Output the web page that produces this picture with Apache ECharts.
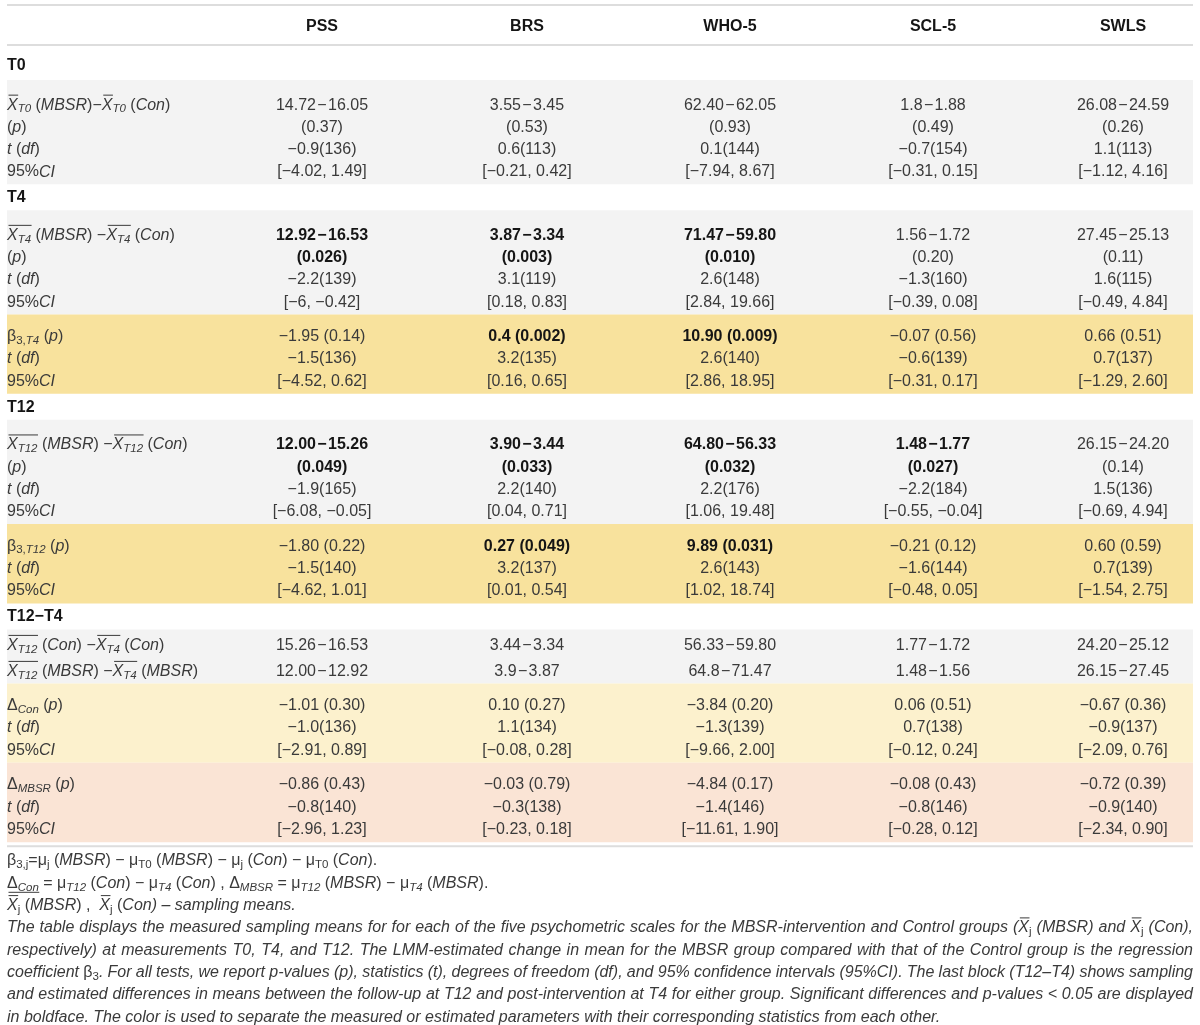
<!DOCTYPE html>
<html lang="en">
<head>
<meta charset="UTF-8">
<title>MBSR vs Control - psychometric scales</title>
<script src="https://cdn.jsdelivr.net/npm/echarts@6/dist/echarts.min.js"></script>
<style>
    html, body {margin: 0; padding: 0; background: #fff;}
    #main {width: 1200px; height: 1025px;}
</style>
</head>
<body>
<div id="main"></div>
<script>
    /* ---- data ---- */
    var scales = ['PSS', 'BRS', 'WHO-5', 'SCL-5', 'SWLS'];

    // T0
    var t0Diff = ['14.72\u221216.05', '3.55\u22123.45', '62.40\u221262.05', '1.8\u22121.88', '26.08\u221224.59'];
    var t0P = ['(0.37)', '(0.53)', '(0.93)', '(0.49)', '(0.26)'];
    var t0T = ['\u22120.9(136)', '0.6(113)', '0.1(144)', '\u22120.7(154)', '1.1(113)'];
    var t0CI = ['[\u22124.02, 1.49]', '[\u22120.21, 0.42]', '[\u22127.94, 8.67]', '[\u22120.31, 0.15]', '[\u22121.12, 4.16]'];

    // T4
    var t4Diff = ['12.92\u221216.53', '3.87\u22123.34', '71.47\u221259.80', '1.56\u22121.72', '27.45\u221225.13'];
    var t4P = ['(0.026)', '(0.003)', '(0.010)', '(0.20)', '(0.11)'];
    var t4T = ['\u22122.2(139)', '3.1(119)', '2.6(148)', '\u22121.3(160)', '1.6(115)'];
    var t4CI = ['[\u22126, \u22120.42]', '[0.18, 0.83]', '[2.84, 19.66]', '[\u22120.39, 0.08]', '[\u22120.49, 4.84]'];
    var b4P = ['\u22121.95 (0.14)', '0.4 (0.002)', '10.90 (0.009)', '\u22120.07 (0.56)', '0.66 (0.51)'];
    var b4T = ['\u22121.5(136)', '3.2(135)', '2.6(140)', '\u22120.6(139)', '0.7(137)'];
    var b4CI = ['[\u22124.52, 0.62]', '[0.16, 0.65]', '[2.86, 18.95]', '[\u22120.31, 0.17]', '[\u22121.29, 2.60]'];

    // T12
    var t12Diff = ['12.00\u221215.26', '3.90\u22123.44', '64.80\u221256.33', '1.48\u22121.77', '26.15\u221224.20'];
    var t12P = ['(0.049)', '(0.033)', '(0.032)', '(0.027)', '(0.14)'];
    var t12T = ['\u22121.9(165)', '2.2(140)', '2.2(176)', '\u22122.2(184)', '1.5(136)'];
    var t12CI = ['[\u22126.08, \u22120.05]', '[0.04, 0.71]', '[1.06, 19.48]', '[\u22120.55, \u22120.04]', '[\u22120.69, 4.94]'];
    var b12P = ['\u22121.80 (0.22)', '0.27 (0.049)', '9.89 (0.031)', '\u22120.21 (0.12)', '0.60 (0.59)'];
    var b12T = ['\u22121.5(140)', '3.2(137)', '2.6(143)', '\u22121.6(144)', '0.7(139)'];
    var b12CI = ['[\u22124.62, 1.01]', '[0.01, 0.54]', '[1.02, 18.74]', '[\u22120.48, 0.05]', '[\u22121.54, 2.75]'];

    // T12-T4
    var dConMeans = ['15.26\u221216.53', '3.44\u22123.34', '56.33\u221259.80', '1.77\u22121.72', '24.20\u221225.12'];
    var dMbsrMeans = ['12.00\u221212.92', '3.9\u22123.87', '64.8\u221271.47', '1.48\u22121.56', '26.15\u221227.45'];
    var dConP = ['\u22121.01 (0.30)', '0.10 (0.27)', '\u22123.84 (0.20)', '0.06 (0.51)', '\u22120.67 (0.36)'];
    var dConT = ['\u22121.0(136)', '1.1(134)', '\u22121.3(139)', '0.7(138)', '\u22120.9(137)'];
    var dConCI = ['[\u22122.91, 0.89]', '[\u22120.08, 0.28]', '[\u22129.66, 2.00]', '[\u22120.12, 0.24]', '[\u22122.09, 0.76]'];
    var dMbsrP = ['\u22120.86 (0.43)', '\u22120.03 (0.79)', '\u22124.84 (0.17)', '\u22120.08 (0.43)', '\u22120.72 (0.39)'];
    var dMbsrT = ['\u22120.8(140)', '\u22120.3(138)', '\u22121.4(146)', '\u22120.8(146)', '\u22120.9(140)'];
    var dMbsrCI = ['[\u22122.96, 1.23]', '[\u22120.23, 0.18]', '[\u221211.61, 1.90]', '[\u22120.28, 0.12]', '[\u22122.34, 0.90]'];

    /* ---- row labels: [text, font code, bar] ; codes n / i / sn / si ; bar 1 = overline, 2 = underline ---- */
    function lblDiff(tp, sep, longBar) {
        return [['X', 'i', 1], [tp, 'si', longBar], [' (', 'n'], ['MBSR', 'i'], [sep, 'n'],
                ['X', 'i', 1], [tp, 'si', longBar], [' (', 'n'], ['Con', 'i'], [')', 'n']];
    }
    var lblP = [['(', 'n'], ['p', 'i'], [')', 'n']];
    var lblT = [['t', 'i'], [' (', 'n'], ['df', 'i'], [')', 'n']];
    var lblCI = [['95%', 'n'], ['CI', 'i']];
    function lblBeta(tp) {
        return [['\u03b2', 'n'], ['3,', 'sn'], [tp, 'si'], [' (', 'n'], ['p', 'i'], [')', 'n']];
    }
    function lblDelta(g) {
        return [['\u0394', 'n'], [g, 'si'], [' (', 'n'], ['p', 'i'], [')', 'n']];
    }
    function lblGroup(g) {
        return [['X', 'i', 1], ['T12', 'si', 1], [' (', 'n'], [g, 'i'], [') \u2212', 'n'],
                ['X', 'i', 1], ['T4', 'si', 1], [' (', 'n'], [g, 'i'], [')', 'n']];
    }

    var C = {gray: '#f3f3f3', gold: '#f8e29d', cream: '#fcf1cd', peach: '#fae4d5'};
    var PAD4 = [13, 22.3, 2], PAD3 = [10, 22.3, 2.5], PAD2 = [2, 26, 0];

    var sections = [
        {title: 'T0', blocks: [
            {bg: C.gray, pad: PAD4, rows: [
                {label: lblDiff('T0', ')\u2212', 0), vals: t0Diff, sig: t0P},
                {label: lblP, vals: t0P, sig: t0P},
                {label: lblT, vals: t0T},
                {label: lblCI, vals: t0CI}]}
        ]},
        {title: 'T4', blocks: [
            {bg: C.gray, pad: PAD4, rows: [
                {label: lblDiff('T4', ') \u2212', 1), vals: t4Diff, sig: t4P},
                {label: lblP, vals: t4P, sig: t4P},
                {label: lblT, vals: t4T},
                {label: lblCI, vals: t4CI}]},
            {bg: C.gold, pad: PAD3, rows: [
                {label: lblBeta('T4'), vals: b4P, sig: b4P},
                {label: lblT, vals: b4T},
                {label: lblCI, vals: b4CI}]}
        ]},
        {title: 'T12', blocks: [
            {bg: C.gray, pad: PAD4, rows: [
                {label: lblDiff('T12', ') \u2212', 1), vals: t12Diff, sig: t12P},
                {label: lblP, vals: t12P, sig: t12P},
                {label: lblT, vals: t12T},
                {label: lblCI, vals: t12CI}]},
            {bg: C.gold, pad: PAD3, rows: [
                {label: lblBeta('T12'), vals: b12P, sig: b12P},
                {label: lblT, vals: b12T},
                {label: lblCI, vals: b12CI}]}
        ]},
        {title: 'T12\u2212T4', blocks: [
            {bg: C.gray, pad: PAD2, rows: [
                {label: lblGroup('Con'), vals: dConMeans},
                {label: lblGroup('MBSR'), vals: dMbsrMeans}]},
            {bg: C.cream, pad: PAD3, rows: [
                {label: lblDelta('Con'), vals: dConP, sig: dConP},
                {label: lblT, vals: dConT},
                {label: lblCI, vals: dConCI}]},
            {bg: C.peach, pad: PAD3, rows: [
                {label: lblDelta('MBSR'), vals: dMbsrP, sig: dMbsrP},
                {label: lblT, vals: dMbsrT},
                {label: lblCI, vals: dMbsrCI}]}
        ]}
    ];

    var notes = [
        [['\u03b2', 'n'], ['3,j', 'sn'], ['=', 'n'], ['\u03bc', 'n'], ['j', 'sn'], [' (', 'n'], ['MBSR', 'i'], [') \u2212 ', 'n'],
         ['\u03bc', 'n'], ['T0', 'sn'], [' (', 'n'], ['MBSR', 'i'], [') \u2212 ', 'n'], ['\u03bc', 'n'], ['j', 'sn'], [' (', 'n'],
         ['Con', 'i'], [') \u2212 ', 'n'], ['\u03bc', 'n'], ['T0', 'sn'], [' (', 'n'], ['Con', 'i'], [').', 'n']],
        [['\u0394', 'n', 2], ['Con', 'si', 2], [' = ', 'n'], ['\u03bc', 'n'], ['T12', 'si'], [' (', 'n'], ['Con', 'i'], [') \u2212 ', 'n'],
         ['\u03bc', 'n'], ['T4', 'si'], [' (', 'n'], ['Con', 'i'], [') , ', 'n'], ['\u0394', 'n'], ['MBSR', 'si'], [' = ', 'n'],
         ['\u03bc', 'n'], ['T12', 'si'], [' (', 'n'], ['MBSR', 'i'], [') \u2212 ', 'n'], ['\u03bc', 'n'], ['T4', 'si'], [' (', 'n'],
         ['MBSR', 'i'], [').', 'n']],
        [['X', 'i', 1], ['j', 'sn'], [' (', 'n'], ['MBSR', 'i'], [') ,  ', 'n'], ['X', 'i', 1], ['j', 'sn'], [' (', 'n'],
         ['Con', 'i'], [') \u2013 sampling means.', 'i']]
    ];
    var paragraph = [
        [['The table displays the measured sampling means for for each of the five psychometric scales for the MBSR-intervention and Control groups (', 'i'],
         ['X', 'i', 1], ['j', 'sn'], [' (MBSR) and ', 'i'], ['X', 'i', 1], ['j', 'sn'], [' (Con),', 'i']],
        [['respectively) at measurements T0, T4, and T12. The LMM-estimated change in mean for the MBSR group compared with that of the Control group is the regression', 'i']],
        [['coefficient ', 'i'], ['\u03b2', 'n'], ['3', 'sn'],
         ['. For all tests, we report p-values (p), statistics (t), degrees of freedom (df), and 95% confidence intervals (95%CI). The last block (T12\u2013T4) shows sampling', 'i']],
        [['and estimated differences in means between the follow-up at T12 and post-intervention at T4 for either group. Significant differences and p-values < 0.05 are displayed', 'i']],
        [['in boldface. The color is used to separate the measured or estimated parameters with their corresponding statistics from each other.', 'i']]
    ];

    /* ---- layout ---- */
    var L = {left: 7, right: 1193, cols: [322, 527, 730, 933, 1123], topRule: 5, headY: 26, headRule: 45, noteY: 860, noteH: 22.3};
    var FONT = '"Liberation Sans", Arial, sans-serif';
    var SIZE = 16, SUB = 11.5, SUB_DY = 4, TEXT_DY = 1;
    var INK = '#3a3a3a', INK_B = '#151515';

    function isSig(s) {
        var m = /\(([\d.]+)\)/.exec(s || '');
        return m ? parseFloat(m[1]) < 0.05 : false;
    }
    // a hair of air round the minus between two means, as in the typeset table
    function spaced(v) {
        return v.replace(/(\d)\u2212(\d)/g, '$1\u200a\u2212\u200a$2');
    }

    var rowItems = [], bgItems = [], titleItems = [];
    var cursor = L.headRule;
    sections.forEach(function (sec, si) {
        titleItems.push([L.left, cursor + (si === 0 ? 20 : 12.5), sec.title]);
        cursor += (si === 0 ? 35 : 26);
        sec.blocks.forEach(function (b) {
            var top = cursor, y = top + b.pad[0] + b.pad[1] / 2;
            b.rows.forEach(function (r) {
                rowItems.push({y: y, label: r.label, vals: r.vals, bold: r.vals.map(function (v, i) {
                    return r.sig ? isSig(r.sig[i]) : false;
                })});
                y += b.pad[1];
            });
            cursor = top + b.pad[0] + b.pad[1] * b.rows.length + b.pad[2];
            bgItems.push([L.left, top, L.right, cursor, b.bg]);
        });
    });
    var rules = [L.topRule, L.headRule, cursor + 4];

    /* ---- text runs with subscripts and bars ---- */
    var mctx = document.createElement('canvas').getContext('2d');
    function fontOf(code) {
        var sub = code.charAt(0) === 's', st = code.charAt(code.length - 1);
        return (st === 'i' ? 'italic ' : st === 'b' ? 'bold ' : '') + (sub ? SUB : SIZE) + 'px ' + FONT;
    }
    function widthOf(t, font) {
        mctx.font = font;
        return mctx.measureText(t).width;
    }
    function txt(t, x, y, font, fill, align) {
        return {type: 'text', silent: true, style: {text: t, x: x, y: y + TEXT_DY, font: font, fill: fill,
            textAlign: align || 'left', textVerticalAlign: 'middle', align: align || 'left', verticalAlign: 'middle'}};
    }
    function run(segs, x, y, justify) {
        var toks = [];
        segs.forEach(function (s) {
            s[0].split(/( )/).forEach(function (p) {
                if (p) toks.push({t: p, code: s[1], bar: s[2] || 0, space: p === ' ', font: fontOf(s[1])});
            });
        });
        var total = 0, nsp = 0;
        toks.forEach(function (k) { k.w = widthOf(k.t, k.font); total += k.w; if (k.space) nsp++; });
        var extra = justify && nsp ? (justify - total) / nsp : 0;
        var els = [], cx = x, bar = null;
        function flush() {
            if (bar) {
                var by = y + TEXT_DY + (bar[2] === 1 ? -10 : 9);
                els.push({type: 'line', silent: true, shape: {x1: bar[0] + 1.5, y1: by, x2: bar[1] + 0.5, y2: by},
                    style: {stroke: INK, lineWidth: 1}});
            }
            bar = null;
        }
        toks.forEach(function (k) {
            var w = k.w + (k.space ? extra : 0);
            if (!k.space) els.push(txt(k.t, cx, y + (k.code.charAt(0) === 's' ? SUB_DY : 0), k.font, INK));
            if (k.bar) {
                if (bar && bar[2] === k.bar) bar[1] = cx + w;
                else { flush(); bar = [cx, cx + w, k.bar]; }
            } else flush();
            cx += w;
        });
        flush();
        return els;
    }

    /* ---- chart ---- */
    var chart = echarts.init(document.getElementById('main'), null, {renderer: 'canvas'});
    var option = {
        animation: false,
        backgroundColor: '#ffffff',
        grid: {left: 0, right: 0, top: 0, bottom: 0},
        xAxis: {type: 'value', min: 0, max: 1200, show: false},
        yAxis: {type: 'value', min: 0, max: 1025, inverse: true, show: false},
        series: [
            {   // coloured blocks
                type: 'custom', silent: true, z: 1,
                data: bgItems,
                renderItem: function (params, api) {
                    var p1 = api.coord([api.value(0), api.value(1)]);
                    var p2 = api.coord([api.value(2), api.value(3)]);
                    return {type: 'rect', shape: {x: p1[0], y: p1[1], width: p2[0] - p1[0], height: p2[1] - p1[1]},
                        style: {fill: bgItems[params.dataIndex][4]}};
                }
            },
            {   // horizontal rules
                type: 'custom', silent: true, z: 2,
                data: rules.map(function (y) { return [L.left, y, L.right]; }),
                renderItem: function (params, api) {
                    var p1 = api.coord([api.value(0), api.value(1)]);
                    var p2 = api.coord([api.value(2), api.value(1)]);
                    return {type: 'line', shape: {x1: p1[0], y1: p1[1], x2: p2[0], y2: p2[1]},
                        style: {stroke: '#dddddd', lineWidth: 2}};
                }
            },
            {   // column headers
                type: 'custom', silent: true, z: 3,
                data: scales.map(function (s, i) { return [L.cols[i], L.headY]; }),
                renderItem: function (params, api) {
                    var p = api.coord([api.value(0), api.value(1)]);
                    return txt(scales[params.dataIndex], p[0], p[1], 'bold ' + SIZE + 'px ' + FONT, INK_B, 'center');
                }
            },
            {   // section titles
                type: 'custom', silent: true, z: 3,
                data: titleItems,
                renderItem: function (params, api) {
                    var p = api.coord([api.value(0), api.value(1)]);
                    return txt(titleItems[params.dataIndex][2], p[0], p[1], 'bold ' + SIZE + 'px ' + FONT, INK_B, 'left');
                }
            },
            {   // table rows
                type: 'custom', silent: true, z: 3,
                data: rowItems.map(function (r) { return [L.left, r.y]; }),
                renderItem: function (params, api) {
                    var r = rowItems[params.dataIndex];
                    var p = api.coord([api.value(0), api.value(1)]);
                    var children = run(r.label, p[0], p[1]);
                    r.vals.forEach(function (v, i) {
                        var q = api.coord([L.cols[i], api.value(1)]);
                        children.push(txt(spaced(v), q[0], q[1], (r.bold[i] ? 'bold ' : '') + SIZE + 'px ' + FONT,
                            r.bold[i] ? INK_B : INK, 'center'));
                    });
                    return {type: 'group', children: children};
                }
            },
            {   // footnotes
                type: 'custom', silent: true, z: 3,
                data: notes.concat(paragraph).map(function (n, i) { return [L.left, L.noteY + i * L.noteH]; }),
                renderItem: function (params, api) {
                    var i = params.dataIndex;
                    var lines = notes.concat(paragraph);
                    var p = api.coord([api.value(0), api.value(1)]);
                    var justify = (i >= notes.length && i < lines.length - 1) ? (L.right - L.left) : 0;
                    return {type: 'group', children: run(lines[i], p[0], p[1], justify)};
                }
            }
        ]
    };
    chart.setOption(option);
    window.onresize = chart.resize;
</script>
</body>
</html>
